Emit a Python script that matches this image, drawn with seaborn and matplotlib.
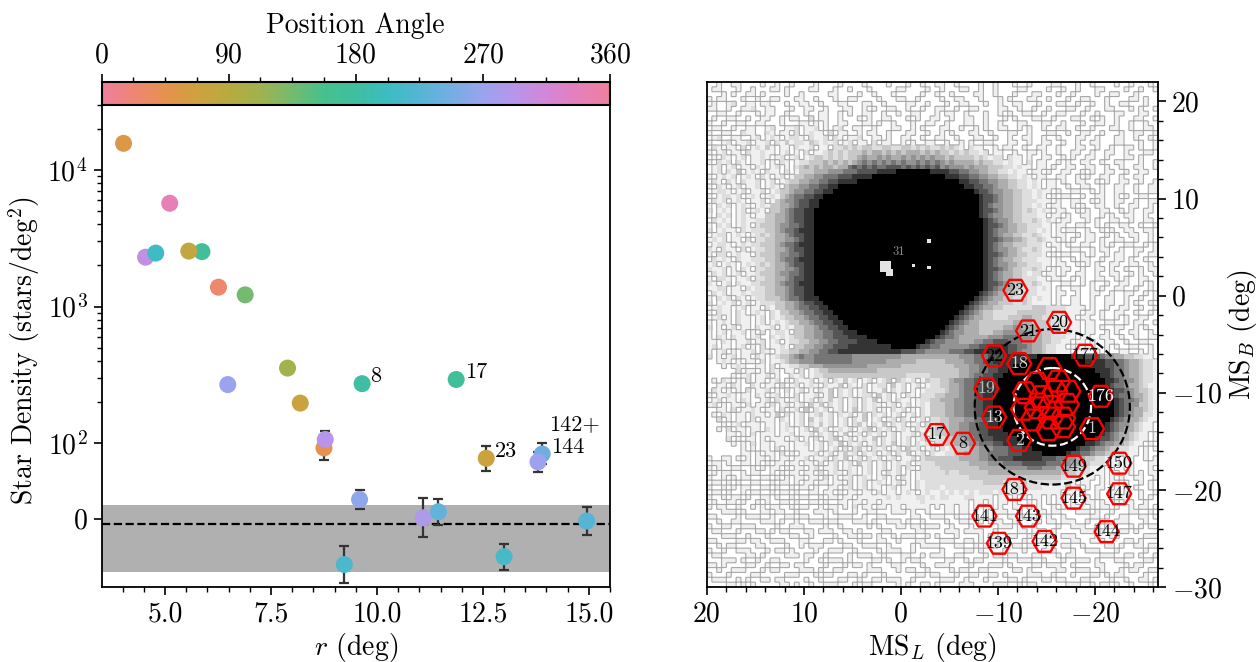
import numpy as np
import pandas as pd
import matplotlib
matplotlib.use('Agg')
import matplotlib.pyplot as plt
import seaborn as sns
from matplotlib.colors import LinearSegmentedColormap, ListedColormap, Normalize
from matplotlib.cm import ScalarMappable
from matplotlib.patches import Circle

# satellite candidates: radius, density, position angle
r_deg = [4.02, 5.11, 4.54, 4.78, 5.87, 5.56, 6.26, 6.89, 6.48, 7.89, 8.19, 9.65, 11.87,
         8.75, 8.78, 12.58, 13.9, 13.8, 9.59, 11.09, 11.45, 14.95, 9.23, 13.0]
density = [15700, 5715, 2300, 2465, 2525, 2550, 1386, 1218, 268, 354, 196, 272, 292,
           93.5, 106, 79.8, 85.5, 75, 25.5, 1.3, 9.3, -3, -60.4, -50]
pos_angle = [55, 340, 300, 205, 172, 80, 25, 135, 270, 108, 72, 180, 172,
             45, 292, 70, 243, 272, 262, 285, 232, 225, 215, 212]

# error bars, absolute ends
err_r = [8.75, 8.78, 12.58, 13.9, 13.8, 9.59, 11.09, 11.45, 14.95, 9.23, 13.0]
err_mid = [93.5, 106, 79.8, 85.5, 75, 25.5, 1.3, 9.3, -3, -60.4, -50]
err_low = [77, 92, 62.6, 72, 62, 13, -24, -8, -21.6, -85, -67.5]
err_high = [110, 123, 96.5, 99.6, 88, 38, 27.8, 26.5, 15.4, -35.7, -33]

band_low, band_high, band_mean = -70, 18.5, -6.6

point_labels = ['8', '17', '23', '144', '142+']
label_r = [9.65, 11.87, 12.58, 13.9, 13.8]
label_density = [272, 292, 79.8, 85.5, 75]
label_dx = [8, 9, 9, 9, 11]
label_dy = [7, 7, 7, 7, 38]

# colorbar colours read every 22.5 deg
pa_colors = ['#ee7f9e', '#ee8672', '#e5924f', '#cfa13f', '#b7ab3f', '#a0b250', '#74bb6e', '#46c08e', '#3fbfa0',
             '#3cbcc0', '#55b5d5', '#74aee2', '#9aa3ee', '#b795ea', '#d287d8', '#e580bc', '#ee7f9e']
# grey value of each map level
map_levels = ['#ffffff', '#f0f0f0', '#dedede', '#c8c8c8', '#adadad', '#939393', '#757575', '#555555', '#343434', '#000000']

# counts map, grey level 0-9 per 0.5 deg cell, top row is MS_B = 21.75, first column MS_L = 19.75
# a row is plain text, or (cells left of the black, first black column, black length, cells right of it)
map_rows = [
    '001001100001001001000010000100001000010001001001100100001001000100100001100010010000100100010',
    '011000100100011010000110001001000100000110000100100011001001000011000010010010001100001001001',
    '000101001101000010010000011000010010001000001001001000011001000100011000100100001001100010',
    '101100010010011000110010001001100001000110010000100110001000101000110010001001100010000110100',
    '010012001101100010011001000110001100100001100100010011000100100110001000110010010010011000100',
    '110010011200110001001100100011001010011001001001100100110000110010010010001100100011000101001',
    '001100100010110010001001100101001100100100110001011001000100101001100100110001001000110001100',
    '010011001001100101100201100100010100110001010011001001100100010100011001000110010100100011001',
    '100100110011000100011010100110001101001000100110010001100100100011000110010001001100100100100',
    '011001001100120011201120101200110010001100101000110010010100110010100100110010010001100100110',
    '100110021100210110201211020110010110010001100100101000110010001100100011001001100100010011001',
    '012001100120121012210211202101120011010011001001100100011001001001100100100011001000110010010',
    '100120112011202131221321212012011020110010100110010010100110001100100110010010011000110001001',
    '021011020121310110211201102232323322332233232322323210211001011001001100100011001001001101001',
    '101201102112110120102011232323334344343434443434332323221201100100110100100110010011001000110',
    '010210120112101201201233232323345445454454545454434333323212202110100110010100110010001101000',
    '102120210112010210122333434343456565656565565656545444434332212110201100101001100100110001001',
    '012012011021012010234343443446767676677767676767565554544433322121101101001100110010010011001001',
    ('0120213012102110201' + '33344455566677778888', 39, 7, '888877665544332212110110100110010100110010011'),
    ('101212012102101201' + '3344556667778888', 34, 15, '8887766554433221210110011001010011001001100'),
    ('02102102112012012' + '33445566778888', 31, 21, '88776655443322121011010011001010011001001'),
    ('1021012011201210' + '34455667788', 27, 26, '8877665443322121011001001100100110010011'),
    ('012210120112012' + '33455667788', 26, 29, '87765544332212110100110010100110010011'),
    ('101221201210121' + '345667788', 24, 32, '877654433221210101100100110010100110'),
    ('02120121011201' + '345567788', 23, 33, '8776544332221110100110010100110010011'),
    ('1021201210121' + '3344567788', 23, 33, '8765544332212101100101001100100110010'),
    ('2012101201210' + '334567788', 22, 34, '8776544332321210110010100110010100110'),
    ('102120121011' + '3344567788', 22, 34, '8765544332221101101001100101001100100'),
    ('02121012112' + '23344567788', 22, 35, '876554332232121011000101001100100110'),
    ('10212012102' + '33345566788', 22, 35, '877654433222110110011001010011001001'),
    ('20121102122' + '23345667888', 22, 35, '876554433221210101100100101001100110'),
    ('01220121012' + '32344567788', 22, 35, '876544332232110110010110010100110010'),
    ('12120110202' + '23344556788', 22, 35, '877655443223211010100110100110010010'),
    ('01221012122' + '33345667888', 22, 35, '876544333222101101001100101001100101'),
    ('21021102012' + '23344567788', 22, 35, '876554432232110100110010110010011001'),
    ('10220121102' + '33345566788', 22, 35, '877654433222101011001010010110010011'),
    ('02121021122' + '23345667888', 22, 35, '876544332221110100101100100110100100'),
    ('12012101212' + '32344567788', 22, 35, '876554433222110110010101001100110010'),
    ('21120102102' + '23344556788', 22, 35, '877654332232101011001001101001001011'),
    ('02120120112' + '33345566788', 22, 35, '876544332122011010011001001100101001'),
    ('10221011202' + '23344567788', 22, 35, '876544332221101100101001100101001100'),
    ('21012021122' + '33345667888', 22, 35, '877654332232110011001010010011001010'),
    ('11220110212' + '23344567788', 22, 35, '876544332221210100110010100110010010'),
    ('02120112122' + '23344567788', 22, 34, '8765443322221110110010011001001100101'),
    ('102120210122' + '33345667888', 23, 32, '87654433223212110100110010011001001001'),
    ('2012120120122' + '23344567788', 24, 30, '876544333223211110100110010011001010010'),
    ('01211012011021' + '33445667788', 25, 28, '8765443322222233322221111010010011001001'),
    ('102110210121021' + '33445667788', 26, 26, '876543322222333333222211101101001100100 1'.replace(' ', '')),
    ('0120102110120212' + '33445667788', 27, 24, '876544332223334433222211101100100101001 1'.replace(' ', '')),
    ('10121021101201212' + '33445667788', 28, 22, '8765443333333444433332221110110011001011001'),
    ('201012011021120121' + '33445667788', 29, 20, '87654443333344554443332221110110100110010100'),
    ('012101201120102012210' + '3344556677888', 31, 17, '876554443334455555444332212110110010100110010'),
    ('1012102102110120021212' + '334455667778888', 33, 14, '8766544444455566655544332221101100110010010011'),
    ('201102101120120120122' + '3344556677778888', 35, 10, '876655544455667776665544332211011010011001001100'),
    ('0120110120102011210' + '33445566777888888888', 38, 5, '87766555555667788887766544322110100110010100110010'),
    '101201011202101223344556677888888888888877766555556667788888887765544322111011001010011001010011001',
    ('201012011021012334' + '5655666666665555555555444444444444555666' + '7778888888', 68, 7, '888777655443322110'),
    ('0121010110201123' + '4455566666666555555544444433333344445' + '56677888888', 65, 13, '888877665443221'),
    ('101210011020112233' + '44455555555544444443333333333' + '3444556677888', 63, 16, '88877665443221'),
    ('20110102101102012334' + '4444444443333333333333333' + '34455667788', 62, 18, '8887665443221'),
    ('0101201120100212012233' + '3333333333333332222233333' + '3445667788', 61, 20, '887665443221'),
    ('102101020110120102112012021312012012303212013' + '2233' + '4556677888', 60, 22, '88765543221'),
    ('011021002101102012012102113021020122031201201' + '2233' + '4456677888', 60, 22, '87665443211'),
    ('210101020112010201201021302120120113021201012' + '2223' + '4456677888', 60, 23, '8776543321'),
    ('101121011021012010201120130212012203120102102' + '223' + '34445667788', 59, 24, '8766544321'),
    ('012011021001202101201202131201202130120211012' + '2' + '3344455667788', 59, 25, '876654321'),
    ('120101102011020120120313021201202121012012012' + '1' + '3334455667788', 59, 25, '876553321'),
    ('011020112101102012030212012013021201021201021' + '3334455667788', 59, 25, '876544321'),
    ('102101102110130201201231202120130212012012021' + '3334455667788', 59, 25, '876544221'),
    ('201011020111021012031212012021301201202101202' + '23' + '34445566778', 60, 23, '8765443211'),
    ('010120111011012012021312012023102130212012021' + '23' + '34455667788', 60, 22, '87655432110'),
    ('102011011021012101203120121201230212012102122' + '3' + '3344556677888', 61, 21, '87654432110'),
    ('011010201110112011202120130120212012011202123' + '33445566778888', 62, 19, '876544321101'),
    ('201011010111012010201230120121302120120120122' + '334455667788888', 64, 16, '8776544321101'),
    ('010102011011101120120213021201202130120212022' + '3344455666778888', 65, 13, '887655443211010'),
    ('101011020101110120120202310212012031201202123' + '334455566677788', 67, 9, '87765543322110101'),
    ('011010110201011120120131202120120213012021122' + '334445566667778888', 69, 5, '8776654433221110100'),
    '100110101011010110112011202130120212012011202333333344445566777888888777665544332211101100101',
    '011010011010101101101102012012031201201212012223333333444455566667777766655443322211101100011',
    '101001100101011010110120112012101201201202102222333333334444455555666555444332211101001100010',
    '010110010110010101101102012102101201021201012222232233333344444444444444433322211101100101011',
    '100101011001101010110110201012012101201021012222222222333333333333333333322221110101010011001',
    '011010100110010110101101101102012012101201021222222222222333322223222222211101100101101001010',
    '100101011001101001011010011012012011012011021222122222222222221222222111110110101100101010010',
    '011010010110010110100110110101101102011012101211212121212221211211111111101101001001101001001',
    '100101101001101001011001011011011111121211122121221112211110110101011010100101101001011001010',
    '010011010010100110100110100110110110111111112111111111011010110100101010110100110100101100100',
    '101100100101011001011001011010201101101101111101011011010110100110101001010110010110100101101',
    '000111010001101100100011101000100110001110100100011011000101110010001101100011101001000110010',
    '110000101110010011011000100111001001100000110011100100110100001101110010010000011010011001101',
    '001001100001110100100111011000111010011101001000010011001011100100001011011100100100111000100',
    '100110011100001001110000100100000101000110110111001000100000111010010000100111001011000101011',
    '011000100011010110001101110011010000110000011000011101111001000011011101000001110100011010000',
    '000111001000100001100100001001101101001011100101000100001011001100100011011100001001100000111',
    '110000110110011100011000110100010001100100011000111001101000110001001100000110011100001101000',
    '001011000011000010010111000011001110010000101111000110010111000110110010011001000011010011011',
    '100100111000101101000010011100100001011100100000100001101000010001000111000100111000100000100',
    '011000001101000011101100100001011100100011001011100110000101101100011000101100000111001101001',
    '000111010010011000001001011101000011010010110000011001011000010011100100010011101000110000110',
    '110100001100100110110000100010110100001100001001110000100011101000011011100100001100001011000',
    '001001110001011000011101001100000111000101100100001011001100000110100000110011100100010110011',
    '100010000110000011100010110001101000100000011011000100110011010000111001000100011010110000100',
    '011100101001101100001001000110010011011100100000111001000100001101000110110001100001001001101',
    '000011010100000110100100111000101100000101001101000011100001110010110000001110010110100100010',
    '110100001011100001011000100011000011101010000010110100011000100011000101110000101000011011000',
    '001001100000110111000011001100110100001011100100100001101011000100110000011011000110100100111',
]

# hexagon fields in the map
hex_labels = ['23', '20', '21', '22', '18', '177', '19', '176', '13', '1', '2', '17', '8', '149',
              '150', '181', '145', '147', '141', '143', '144', '139', '142']
hex_l = [-11.8, -16.3, -13.1, -9.6, -12.2, -19.0, -8.8, -20.6, -9.6, -19.7, -12.2, -3.7, -6.4, -17.8,
         -22.5, -11.7, -17.8, -22.5, -8.6, -13.1, -21.2, -10.1, -14.8]
hex_b = [0.55, -2.75, -3.63, -6.2, -7.0, -6.14, -9.57, -10.36, -12.5, -13.7, -14.9, -14.3, -15.2, -17.56,
         -17.25, -19.96, -20.85, -20.4, -22.7, -22.7, -24.3, -25.5, -25.3]
hex_text_color = ['black', 'black', 'black', 'black', '#dddddd', 'black', '#bbbbbb', 'white', '#dddddd',
                  '#cccccc', '#cccccc', 'black', 'black', 'black', 'black', 'black', 'black', 'black',
                  'black', 'black', 'black', 'black', 'black']
# central fields, labels are lost on the black
core_l = [-15.3, -14.0, -16.2, -17.25, -12.8, -14.5, -15.9, -12.6, -14.0, -15.4, -17.1, -13.6, -15.4, -16.7, -15.2, -16.7]
core_b = [-7.5, -9.0, -8.8, -9.85, -10.0, -10.4, -9.85, -11.7, -11.55, -11.4, -11.2, -12.8, -12.6, -12.6, -13.8, -13.5]

# unmasked pixels at the LMC centre
hole_l = [1.6, 1.2, -2.9, -2.9, -1.3]
hole_b = [3.0, 2.4, 5.6, 2.9, 3.1]
hole_size = [55, 30, 7, 7, 3]

sns.set_style('ticks')
plt.rcParams['font.family'] = ['cmr10', 'DejaVu Serif']
plt.rcParams['mathtext.fontset'] = 'cm'
plt.rcParams['axes.formatter.use_mathtext'] = True
plt.rcParams['axes.unicode_minus'] = False
plt.rcParams['axes.edgecolor'] = 'black'
plt.rcParams['xtick.color'] = 'black'
plt.rcParams['ytick.color'] = 'black'
plt.rcParams['text.color'] = 'black'
plt.rcParams['axes.labelcolor'] = 'black'

FS = 20
W, H = 1257, 662
fig = plt.figure(figsize=(12.57, 6.62), dpi=100)


def px_axes(x0, x1, y0, y1):
    return fig.add_axes([x0 / W, 1 - y1 / H, (x1 - x0) / W, (y1 - y0) / H])


ax = px_axes(101.5, 610, 105, 587)
cax = px_axes(101.5, 610, 82, 105)
mapax = px_axes(707, 1158, 82, 587)

pa_cmap = LinearSegmentedColormap.from_list('pa', pa_colors, N=360)
pa_norm = Normalize(0, 360)

# left panel
ax.set_yscale('symlog', linthresh=100, linscale=0.5)
ax.axhspan(band_low, band_high, color='#b0b0b0', lw=0, zorder=0)
ax.axhline(band_mean, color='black', ls='--', lw=1.6, zorder=1)
yerr = [np.array(err_mid) - np.array(err_low), np.array(err_high) - np.array(err_mid)]
ax.errorbar(err_r, err_mid, yerr=yerr, fmt='none', ecolor='#333333', elinewidth=1.6,
            capsize=3.5, capthick=1.6, zorder=2)
df = pd.DataFrame({'r': r_deg, 'density': density, 'pa': pos_angle})
sns.scatterplot(data=df, x='r', y='density', hue='pa', palette=pa_cmap, hue_norm=pa_norm,
                s=150, linewidth=0, legend=False, zorder=3, ax=ax)
for txt, xv, yv, dx, dy in zip(point_labels, label_r, label_density, label_dx, label_dy):
    ax.annotate(txt, (xv, yv), xytext=(dx, dy), textcoords='offset pixels', fontsize=16,
                va='center', ha='left')
ax.set_xlim(3.5, 15.5)
ax.set_ylim(-90, 3e4)
ax.set_xticks([5, 7.5, 10, 12.5, 15])
ax.set_xticklabels(['5.0', '7.5', '10.0', '12.5', '15.0'])
ax.set_xticks(np.arange(4, 15.6, 0.5), minor=True)
ax.set_yticks([0, 100, 1000, 10000])
ax.set_yticklabels(['0', r'$10^2$', r'$10^3$', r'$10^4$'])
ax.set_yticks([200, 300, 400, 500, 600, 700, 800, 900, 2000, 3000, 4000, 5000, 6000, 7000, 8000, 9000,
               20000, 30000], minor=True)
ax.yaxis.set_minor_formatter(plt.NullFormatter())
ax.set_xlabel(r'$r$ (deg)', fontsize=FS, labelpad=3)
ax.set_ylabel(r'Star Density (stars/deg$^2$)', fontsize=FS, labelpad=4)
ax.yaxis.label.set_y(0.49)

# position angle colorbar
cb = fig.colorbar(ScalarMappable(norm=pa_norm, cmap=pa_cmap), cax=cax, orientation='horizontal')
cb.ax.xaxis.set_ticks_position('top')
cb.ax.xaxis.set_label_position('top')
cb.set_ticks([0, 90, 180, 270, 360])
cb.ax.set_xticks(np.arange(0, 361, 22.5), minor=True)
cb.set_label('Position Angle', fontsize=FS, labelpad=6)


def row_cells(row):
    if not isinstance(row, str):
        left, start, n, right = row
        row = left[-start:].rjust(start, '0') + '9' * n + right
    return [int(c) for c in row.ljust(93, '0')[:93]]


# right panel, heatmap cells run on index coordinates
grid = np.array([row_cells(row) for row in map_rows])


def to_x(l):
    return (20 - np.asarray(l, dtype=float)) * 2


def to_y(b):
    return (22 - np.asarray(b, dtype=float)) * 2


sns.heatmap(grid, cmap=ListedColormap(map_levels), vmin=-0.5, vmax=9.5, cbar=False, ax=mapax,
            xticklabels=False, yticklabels=False, rasterized=True)
# repeat each cell so the outline stays boxy along the cell edges
boxy = np.kron(grid, np.ones((6, 6)))
mapax.contour((np.arange(boxy.shape[1]) + 0.5) / 6, (np.arange(boxy.shape[0]) + 0.5) / 6, boxy,
              levels=[0.5], colors='#a8a8a8', linewidths=0.8, zorder=1.5)
mapax.scatter(to_x(hole_l), to_y(hole_b), s=hole_size, marker='s', c='#e4e4e4', linewidths=0, zorder=2)
mapax.text(to_x(0.2), to_y(4.5), '31', fontsize=9, color='#888888', ha='center', va='center')
mapax.add_patch(Circle((to_x(-15.6), to_y(-11.45)), 16.0, fill=False, ec='black', ls='--', lw=1.6, zorder=3))
mapax.add_patch(Circle((to_x(-15.6), to_y(-11.45)), 8.0, fill=False, ec='white', ls='--', lw=1.6, zorder=3))
mapax.scatter(to_x(hex_l + core_l), to_y(hex_b + core_b), s=300, marker='H', facecolors='none',
              edgecolors='#ff0000', linewidths=1.7, zorder=4)
for txt, l, b, col in zip(hex_labels, hex_l, hex_b, hex_text_color):
    mapax.text(to_x(l), to_y(b), txt, fontsize=13, color=col, ha='center', va='center', zorder=5)
mapax.set_xlim(0, 93)
mapax.set_ylim(104, 0)
mapax.set_aspect('auto')
mapax.set_xticks(to_x([20, 10, 0, -10, -20]))
mapax.set_xticklabels(['20', '10', '0', r'$-10$', r'$-20$'])
mapax.set_xticks(to_x(np.arange(-26, 21, 2)), minor=True)
mapax.yaxis.tick_right()
mapax.yaxis.set_label_position('right')
mapax.set_yticks(to_y([20, 10, 0, -10, -20, -30]))
mapax.set_yticklabels(['20', '10', '0', r'$-10$', r'$-20$', r'$-30$'], rotation=0)
mapax.set_yticks(to_y(np.arange(-30, 22, 2)), minor=True)
mapax.set_xlabel(r'MS$_L$ (deg)', fontsize=FS, labelpad=3)
mapax.set_ylabel(r'MS$_B$ (deg)', fontsize=FS, labelpad=3)

for a in [ax, cax, mapax]:
    for sp in a.spines.values():
        sp.set_visible(True)
        sp.set_linewidth(1.3)
        sp.set_color('black')
    a.tick_params(which='major', length=6, width=1.2, labelsize=FS, direction='out', pad=4)
    a.tick_params(which='minor', length=3.5, width=1.0, direction='out')
cb.outline.set_linewidth(1.5)
cb.outline.set_edgecolor('black')

fig.savefig('out.png', dpi=100)
